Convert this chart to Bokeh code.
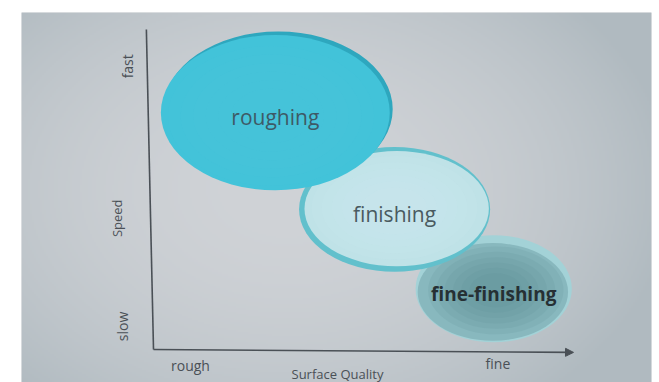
import numpy as np
from bokeh.plotting import figure
from bokeh.models import Range1d, Arrow, NormalHead
from bokeh.core.properties import value
from bokeh.embed import file_html
from bokeh.resources import INLINE

# Machining stages placed by surface quality (x) and speed (y), in axis units
stages = ["roughing", "finishing", "fine-finishing"]
quality = [2.90, 5.74, 8.10]
speed = [7.40, 4.38, 1.90]
quality_spread = [5.45, 4.55, 3.72]
speed_spread = [4.85, 3.90, 3.35]

# Axis annotations
quality_ticks = [0.88, 8.20]
quality_tick_labels = ["rough", "fine"]
speed_ticks = [0.72, 8.85]
speed_tick_labels = ["slow", "fast"]
x_title = "Surface Quality"
y_title = "Speed"

FONT = value("Open Sans")
INK = "#4a5056"

p = figure(width=659, height=382, output_backend="svg", toolbar_location=None,
           x_axis_location=None, y_axis_location=None,
           min_border_left=21, min_border_right=8, min_border_top=12, min_border_bottom=0,
           x_range=Range1d(-3.143, 11.857), y_range=Range1d(-1.031, 10.531))
p.grid.visible = False
p.outline_line_color = None
p.border_fill_color = "white"
p.background_fill_color = "#c6cace"

# soft vignette behind the chart
H, W = 185, 315
yy, xx = np.mgrid[0:H, 0:W]
r = np.sqrt(((xx - W * 0.42) / (W * 0.62)) ** 2 + ((yy - H * 0.52) / (H * 0.75)) ** 2)
r = np.clip(r, 0, 1) ** 2
c0 = np.array([208, 211, 215])
c1 = np.array([176, 186, 192])
rgb = c0[None, None, :] * (1 - r[..., None]) + c1[None, None, :] * r[..., None]
img = np.empty((H, W), dtype=np.uint32)
view = img.view(dtype=np.uint8).reshape((H, W, 4))
view[..., 0] = rgb[..., 0]
view[..., 1] = rgb[..., 1]
view[..., 2] = rgb[..., 2]
view[..., 3] = 255
p.image_rgba(image=[img], x=-3.143, y=-1.031, dw=15.0, dh=11.562)

# disc colours, per stage
rim_colors = ["#2ea7be", "#62c0cc", "#a3d2d7"]
face_colors = ["#42c3d9", "#bfe2e7", "#88b8be"]
core_colors = ["#4ac8dd", "#d0ecef", "#5f8d93"]
core_alpha = [0.10, 0.14, 0.16]


def shaded_core(x, y, w, h, color, alpha):
    # stacked translucent ellipses give a soft radial shading
    for k in range(6):
        s = 0.9 - k * 0.11
        p.ellipse(x=x, y=y, width=w * s, height=h * s,
                  fill_color=color, fill_alpha=alpha, line_color=None)


# discs: drawn back to front so the faster stage sits on top
for i in [2, 1, 0]:
    x, y = quality[i], speed[i]
    w, h = quality_spread[i], speed_spread[i]
    if i == 0:
        p.ellipse(x=x + 0.07, y=y + 0.11, width=w, height=h,
                  fill_color=rim_colors[i], line_color=None)
        p.ellipse(x=x, y=y, width=w, height=h,
                  fill_color=face_colors[i], line_color=None)
        shaded_core(x - 0.1, y - 0.1, w, h, core_colors[i], core_alpha[i])
    elif i == 1:
        p.ellipse(x=x, y=y, width=w, height=h,
                  fill_color=rim_colors[i], line_color=None)
        p.ellipse(x=x + 0.05, y=y + 0.02, width=w - 0.16, height=h - 0.3,
                  fill_color=face_colors[i], line_color=None)
        shaded_core(x, y + 0.05, w - 0.16, h - 0.3, core_colors[i], core_alpha[i])
    else:
        p.ellipse(x=x, y=y, width=w, height=h,
                  fill_color=rim_colors[i], line_color=None)
        p.ellipse(x=x - 0.02, y=y - 0.1, width=w - 0.14, height=h - 0.3,
                  fill_color=face_colors[i], line_color=None)
        shaded_core(x + 0.05, y - 0.05, w - 0.14, h - 0.3, core_colors[i], core_alpha[i])

label_sizes = ["21px", "21px", "19px"]
label_colors = ["#3e5a66", "#4a5a60", "#263034"]
for i in range(3):
    p.text(x=[quality[i]], y=[speed[i] - 0.15], text=[stages[i]],
           text_font=FONT, text_font_size=label_sizes[i],
           text_color=label_colors[i], text_align="center", text_baseline="middle",
           text_font_style="bold" if i == 2 else "normal")

# axes
p.line(x=[-0.17, 0.0], y=[10.0, 0.0], line_color=INK, line_width=1.6)
p.add_layout(Arrow(x_start=0.0, y_start=0.0, x_end=10.0, y_end=-0.09,
                   line_color=INK, line_width=1.6,
                   end=NormalHead(size=8, fill_color=INK, line_color=INK)))

p.text(x=quality_ticks, y=[-0.5, -0.45], text=quality_tick_labels,
       text_font=FONT, text_font_size="14px", text_color=INK,
       text_align="center", text_baseline="middle")
p.text(x=[4.38], y=[-0.76], text=[x_title],
       text_font=FONT, text_font_size="13px", text_color=INK,
       text_align="center", text_baseline="middle")
p.text(x=[-0.74, -0.62], y=speed_ticks, text=speed_tick_labels,
       text_font=FONT, text_font_size="14px", text_color=INK, angle=np.pi / 2,
       text_align="center", text_baseline="middle")
p.text(x=[-0.86], y=[4.1], text=[y_title],
       text_font=FONT, text_font_size="13px", text_color=INK, angle=np.pi / 2,
       text_align="center", text_baseline="middle")

open("out.html", "w").write(file_html(p, INLINE))
